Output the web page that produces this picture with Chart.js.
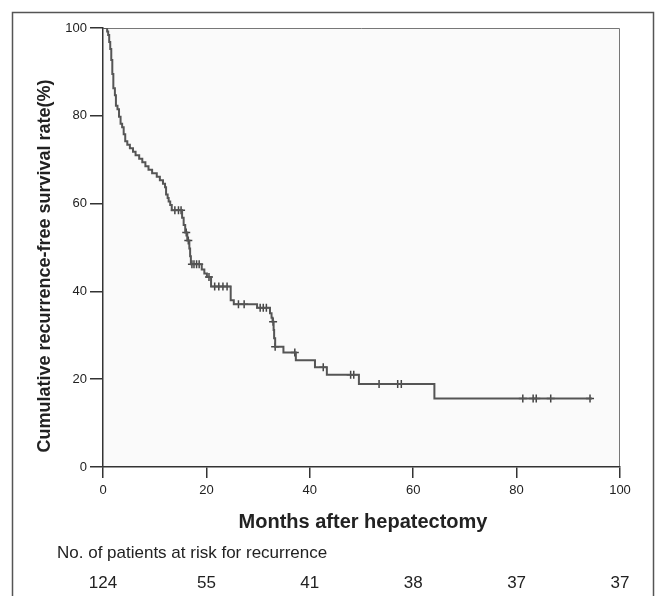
<!DOCTYPE html>
<html lang="en">
  <head>
    <meta charset="UTF-8" />
    <title>Recurrence-free survival</title>
    <script src="https://cdn.jsdelivr.net/npm/chart.js"></script>
    <style>
      html, body { margin: 0; padding: 0; background: #fff; }
    </style>
  </head>
  <body>
    <canvas id="km" width="658" height="596"></canvas>

    <script>
      // Kaplan-Meier steps (month, survival %)
      const stepMonths = [0, 0.8, 1.0, 1.2, 1.4, 1.6, 1.8, 2.0, 2.3, 2.5, 2.8, 3.1, 3.4, 3.7, 4.0, 4.3, 4.7, 5.2, 5.8, 6.3, 7.0, 7.6, 8.2, 8.8, 9.5, 10.4, 11.0, 11.6, 12.0, 12.2, 12.5, 12.7, 13.0, 13.3,
        15.3, 15.6, 15.9, 16.3, 16.7, 16.85, 17.0, 19.1, 19.6, 20.1, 20.9, 24.7, 25.3, 29.8, 32.3, 32.6, 32.8, 33.0, 33.1, 33.3,
        34.9, 37.3, 41.0, 43.3, 49.5, 64.1, 94.6];
      const stepSurv = [100, 99.2, 98.4, 96.8, 95.2, 92.7, 89.5, 86.3, 84.7, 82.3, 81.5, 79.8, 78.2, 77.4, 75.8, 74.2, 73.4, 72.6, 71.8, 71.0, 70.2, 69.4, 68.5, 67.7, 66.9, 66.1, 65.3, 64.5, 63.7, 62.1, 61.3, 60.5, 59.7, 58.5,
        56.8, 55.1, 53.4, 51.6, 49.8, 48.0, 46.2, 45.0, 44.1, 43.3, 41.1, 38.0, 37.1, 36.3, 35.0, 34.0, 33.1, 31.2, 29.3, 27.4,
        26.1, 24.3, 22.7, 21.0, 18.9, 15.6, 15.6];

      // censored observations
      const censorMonths = [13.9, 14.6, 15.1, 16.1, 16.5, 17.2, 17.6, 18.1, 18.6, 20.5, 21.6, 22.4, 23.2, 24.0, 26.2, 27.3, 30.4, 31.0, 31.6,
        32.9, 33.3, 37.1, 42.6, 47.9, 48.5, 53.4, 57.0, 57.7, 81.2, 83.2, 83.8, 86.6, 94.2];
      const censorSurv = [58.5, 58.5, 58.5, 53.4, 51.6, 46.2, 46.2, 46.2, 46.2, 43.3, 41.1, 41.1, 41.1, 41.1, 37.1, 37.1, 36.3, 36.3, 36.3,
        33.1, 27.4, 26.1, 22.7, 21.0, 21.0, 18.9, 18.9, 18.9, 15.6, 15.6, 15.6, 15.6, 15.6];

      // number at risk table
      const riskMonths = [0, 20, 40, 60, 80, 100];
      const riskCounts = [124, 55, 41, 38, 37, 37];

      const FONT = "'Liberation Sans', Arial, sans-serif";
      const INK = "#222";

      const frame = {
        id: "frame",
        beforeDraw(chart) {
          const { ctx, chartArea: a } = chart;
          ctx.save();
          ctx.fillStyle = "#fff";
          ctx.fillRect(0, 0, chart.width, chart.height);
          ctx.fillStyle = "#fafafa";
          ctx.fillRect(a.left, a.top, a.right - a.left, a.bottom - a.top);
          // outer box
          ctx.strokeStyle = "#555";
          ctx.lineWidth = 1.5;
          ctx.strokeRect(12.5, 12.5, 641, 620);
          // top and right plot border
          ctx.strokeStyle = "#777";
          ctx.lineWidth = 1;
          ctx.beginPath();
          ctx.moveTo(a.left, a.top + 0.5);
          ctx.lineTo(a.right - 0.5, a.top + 0.5);
          ctx.lineTo(a.right - 0.5, a.bottom);
          ctx.stroke();
          ctx.restore();
        },
        afterDraw(chart) {
          const { ctx } = chart;
          const x = chart.scales.x;
          ctx.save();
          ctx.fillStyle = INK;
          ctx.textAlign = "center";
          ctx.textBaseline = "middle";

          ctx.font = `bold 20px ${FONT}`;
          ctx.fillText("Months after hepatectomy", 363, 522);

          ctx.save();
          ctx.translate(45, 266);
          ctx.rotate(-Math.PI / 2);
          ctx.font = `bold 18px ${FONT}`;
          ctx.fillText("Cumulative recurrence-free survival rate(%)", 0, 0);
          ctx.restore();

          ctx.textAlign = "left";
          ctx.font = `17px ${FONT}`;
          ctx.fillText("No. of patients at risk for recurrence", 57, 553);

          ctx.textAlign = "center";
          ctx.font = `17px ${FONT}`;
          riskMonths.forEach((m, i) => {
            ctx.fillText(String(riskCounts[i]), x.getPixelForValue(m), 583);
          });
          ctx.restore();
        },
      };

      const ctx = document.getElementById("km").getContext("2d");

      new Chart(ctx, {
        type: "scatter",
        data: {
          datasets: [
            {
              data: stepMonths.map((m, i) => ({ x: m, y: stepSurv[i] })),
              showLine: true,
              stepped: true,
              borderColor: "#555",
              borderWidth: 2,
              pointRadius: 0,
              fill: false,
            },
            {
              data: censorMonths.map((m, i) => ({ x: m, y: censorSurv[i] })),
              pointStyle: "cross",
              pointRadius: 4,
              borderColor: "#444",
              borderWidth: 1.5,
              backgroundColor: "#444",
            },
          ],
        },
        options: {
          responsive: false,
          animation: false,
          devicePixelRatio: 1,
          layout: { padding: { left: 0, right: 38, top: 28, bottom: 0 } },
          plugins: {
            legend: { display: false },
            tooltip: { enabled: false },
          },
          scales: {
            x: {
              type: "linear",
              min: 0,
              max: 100,
              afterFit(scale) { scale.height = 129; },
              ticks: { stepSize: 20, color: INK, font: { family: FONT, size: 13 }, padding: 5, maxRotation: 0 },
              grid: { drawOnChartArea: false, tickLength: 11, color: "#333", lineWidth: 1.5 },
              border: { color: "#333", width: 1.5 },
            },
            y: {
              min: 0,
              max: 100,
              afterFit(scale) { scale.width = 103; },
              ticks: { stepSize: 20, color: INK, font: { family: FONT, size: 13 }, padding: 3 },
              grid: { drawOnChartArea: false, tickLength: 13, color: "#333", lineWidth: 1.5 },
              border: { color: "#333", width: 1.5 },
            },
          },
        },
        plugins: [frame],
      });
    </script>
  </body>
</html>
